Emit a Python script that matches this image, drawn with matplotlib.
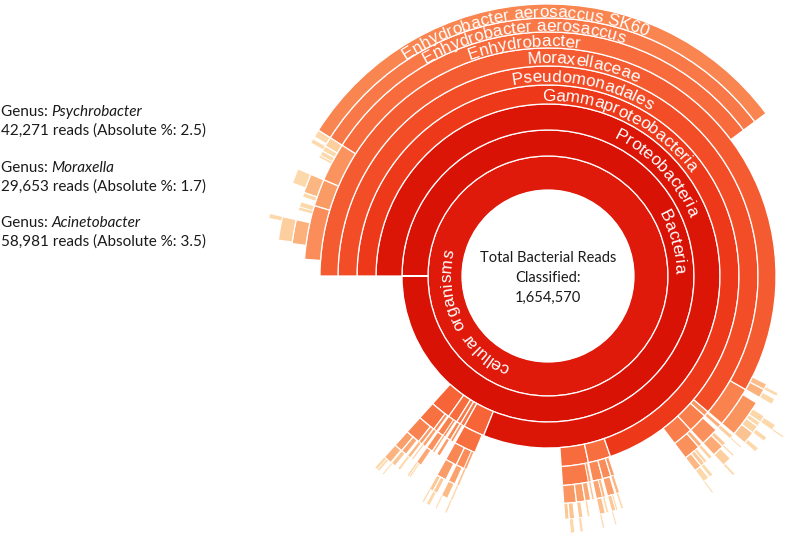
import numpy as np
import matplotlib
matplotlib.use('Agg')
import matplotlib.pyplot as plt
from matplotlib.patches import Wedge, Circle
from matplotlib.colors import LinearSegmentedColormap
from matplotlib.font_manager import FontProperties

# values are % of all classified bacterial reads
# 'unassigned' = reads that stop at the parent taxon (drawn as empty space)
root_lineage = [
    ('cellular organisms', None, 100.0),
    ('Bacteria', 'cellular organisms', 100.0),
    ('unassigned', 'Bacteria', 13.3),
]

other_phyla = [
    ('Firmicutes', 'Bacteria', 1.9),
    ('Bacilli', 'Firmicutes', 1.5),
    ('Bacillales', 'Bacilli', 1.15),
    ('Staphylococcaceae', 'Bacillales', 0.6),
    ('Staphylococcus', 'Staphylococcaceae', 0.55),
    ('Staphylococcus aureus', 'Staphylococcus', 0.2),
    ('Staphylococcus epidermidis', 'Staphylococcus', 0.15),
    ('Bacillaceae', 'Bacillales', 0.4),
    ('Bacillus', 'Bacillaceae', 0.32),
    ('Bacillus cereus', 'Bacillus', 0.1),
    ('Lactobacillales', 'Bacilli', 0.3),
    ('Streptococcaceae', 'Lactobacillales', 0.22),
    ('Streptococcus', 'Streptococcaceae', 0.18),
    ('Clostridia', 'Firmicutes', 0.3),
    ('Clostridiales', 'Clostridia', 0.25),
    ('Clostridiaceae', 'Clostridiales', 0.12),
    ('Bacteroidetes', 'Bacteria', 0.9),
    ('Flavobacteriia', 'Bacteroidetes', 0.55),
    ('Flavobacteriales', 'Flavobacteriia', 0.5),
    ('Flavobacteriaceae', 'Flavobacteriales', 0.4),
    ('Chryseobacterium', 'Flavobacteriaceae', 0.15),
    ('Flavobacterium', 'Flavobacteriaceae', 0.12),
    ('Sphingobacteriia', 'Bacteroidetes', 0.2),
    ('Sphingobacteriales', 'Sphingobacteriia', 0.15),
    ('Deinococcus-Thermus', 'Bacteria', 0.4),
    ('Deinococci', 'Deinococcus-Thermus', 0.35),
    ('Deinococcales', 'Deinococci', 0.3),
    ('Cyanobacteria', 'Bacteria', 0.4),
    ('Cyanophyceae', 'Cyanobacteria', 0.2),
    ('Actinobacteria', 'Bacteria', 2.0),
    ('Actinomycetia', 'Actinobacteria', 1.85),
    ('Micrococcales', 'Actinomycetia', 0.9),
    ('Micrococcaceae', 'Micrococcales', 0.7),
    ('Kocuria', 'Micrococcaceae', 0.3),
    ('Kocuria rhizophila', 'Kocuria', 0.12),
    ('Micrococcus', 'Micrococcaceae', 0.3),
    ('Micrococcus luteus', 'Micrococcus', 0.22),
    ('Corynebacteriales', 'Actinomycetia', 0.65),
    ('Corynebacteriaceae', 'Corynebacteriales', 0.5),
    ('Corynebacterium', 'Corynebacteriaceae', 0.45),
    ('Corynebacterium glutamicum', 'Corynebacterium', 0.1),
    ('Propionibacteriales', 'Actinomycetia', 0.2),
    ('Propionibacteriaceae', 'Propionibacteriales', 0.16),
    ('Cutibacterium', 'Propionibacteriaceae', 0.14),
    ('Cutibacterium acnes', 'Cutibacterium', 0.12),
]

proteobacteria = [
    ('Proteobacteria', 'Bacteria', 81.1),
    ('unassigned', 'Proteobacteria', 7.2),
    ('Betaproteobacteria', 'Proteobacteria', 2.3),
    ('Burkholderiales', 'Betaproteobacteria', 2.0),
    ('Comamonadaceae', 'Burkholderiales', 0.9),
    ('Acidovorax', 'Comamonadaceae', 0.3),
    ('Delftia', 'Comamonadaceae', 0.35),
    ('Delftia acidovorans', 'Delftia', 0.25),
    ('Burkholderiaceae', 'Burkholderiales', 0.6),
    ('Ralstonia', 'Burkholderiaceae', 0.3),
    ('Ralstonia pickettii', 'Ralstonia', 0.18),
    ('Oxalobacteraceae', 'Burkholderiales', 0.4),
    ('Massilia', 'Oxalobacteraceae', 0.15),
    ('Neisseriales', 'Betaproteobacteria', 0.2),
    ('Neisseriaceae', 'Neisseriales', 0.15),
    ('Alphaproteobacteria', 'Proteobacteria', 1.9),
    ('Rhizobiales', 'Alphaproteobacteria', 0.8),
    ('Methylobacteriaceae', 'Rhizobiales', 0.45),
    ('Methylobacterium', 'Methylobacteriaceae', 0.38),
    ('Methylobacterium sp.', 'Methylobacterium', 0.12),
    ('Brucellaceae', 'Rhizobiales', 0.2),
    ('Ochrobactrum', 'Brucellaceae', 0.15),
    ('Sphingomonadales', 'Alphaproteobacteria', 0.65),
    ('Sphingomonadaceae', 'Sphingomonadales', 0.55),
    ('Sphingomonas', 'Sphingomonadaceae', 0.3),
    ('Sphingomonas sp.', 'Sphingomonas', 0.1),
    ('Sphingobium', 'Sphingomonadaceae', 0.12),
    ('Rhodobacterales', 'Alphaproteobacteria', 0.3),
    ('Rhodobacteraceae', 'Rhodobacterales', 0.22),
    ('Paracoccus', 'Rhodobacteraceae', 0.15),
    ('Gammaproteobacteria', 'Proteobacteria', 69.7),
    ('unassigned', 'Gammaproteobacteria', 5.0),
    ('Enterobacterales', 'Gammaproteobacteria', 1.6),
    ('Enterobacteriaceae', 'Enterobacterales', 1.2),
    ('Escherichia', 'Enterobacteriaceae', 0.5),
    ('Escherichia coli', 'Escherichia', 0.42),
    ('Escherichia coli K-12', 'Escherichia coli', 0.1),
    ('Klebsiella', 'Enterobacteriaceae', 0.3),
    ('Klebsiella pneumoniae', 'Klebsiella', 0.22),
    ('Enterobacter', 'Enterobacteriaceae', 0.2),
    ('Yersiniaceae', 'Enterobacterales', 0.3),
    ('Serratia', 'Yersiniaceae', 0.22),
    ('Xanthomonadales', 'Gammaproteobacteria', 1.5),
    ('Xanthomonadaceae', 'Xanthomonadales', 1.3),
    ('Stenotrophomonas', 'Xanthomonadaceae', 0.8),
    ('Stenotrophomonas maltophilia', 'Stenotrophomonas', 0.6),
    ('Stenotrophomonas maltophilia K279a', 'Stenotrophomonas maltophilia', 0.15),
    ('Xanthomonas', 'Xanthomonadaceae', 0.3),
    ('Xanthomonas campestris', 'Xanthomonas', 0.12),
    ('Aeromonadales', 'Gammaproteobacteria', 0.4),
    ('Aeromonadaceae', 'Aeromonadales', 0.3),
    ('Aeromonas', 'Aeromonadaceae', 0.25),
    ('Aeromonas hydrophila', 'Aeromonas', 0.1),
    ('Pseudomonadales', 'Gammaproteobacteria', 61.2),
    ('Pseudomonadaceae', 'Pseudomonadales', 2.9),
    ('Pseudomonas', 'Pseudomonadaceae', 2.5),
    ('Pseudomonas fluorescens group', 'Pseudomonas', 0.8),
    ('Pseudomonas fluorescens', 'Pseudomonas fluorescens group', 0.3),
    ('Pseudomonas putida group', 'Pseudomonas', 0.5),
    ('Pseudomonas putida', 'Pseudomonas putida group', 0.3),
    ('Pseudomonas stutzeri group', 'Pseudomonas', 0.3),
    ('Pseudomonas aeruginosa group', 'Pseudomonas', 0.45),
    ('Pseudomonas aeruginosa', 'Pseudomonas aeruginosa group', 0.38),
    ('Pseudomonas aeruginosa PAO1', 'Pseudomonas aeruginosa', 0.1),
    ('Moraxellaceae', 'Pseudomonadales', 58.3),
]

total_reads = 1654570
genus_names = ['Psychrobacter', 'Moraxella', 'Acinetobacter']
genus_reads = [42271, 29653, 58981]
genus_abs_pct = [2.5, 1.7, 3.5]
genus_pct = [100.0 * r / total_reads for r in genus_reads]

moraxellaceae = [
    ('Perlucidibaca', 'Moraxellaceae', 0.6),
    ('Perlucidibaca piscinae', 'Perlucidibaca', 0.4),
    ('Alkanindiges', 'Moraxellaceae', 0.4),
    ('Alkanindiges illinoisensis', 'Alkanindiges', 0.2),
    ('unassigned', 'Moraxellaceae', 17.5),
    ('Enhydrobacter', 'Moraxellaceae', 30.8),
    ('Enhydrobacter aerosaccus', 'Enhydrobacter', 30.8),
    ('Enhydrobacter aerosaccus SK60', 'Enhydrobacter aerosaccus', 30.8),
    ('Psychrobacter', 'Moraxellaceae', genus_pct[0]),
    ('Psychrobacter cryohalolentis', 'Psychrobacter', 0.6),
    ('Psychrobacter cryohalolentis K5', 'Psychrobacter cryohalolentis', 0.45),
    ('Psychrobacter arcticus', 'Psychrobacter', 0.35),
    ('Psychrobacter arcticus 273-4', 'Psychrobacter arcticus', 0.25),
    ('Psychrobacter sp. PRwf-1', 'Psychrobacter', 0.3),
    ('Psychrobacter sp. G', 'Psychrobacter', 0.15),
    ('Moraxella', 'Moraxellaceae', genus_pct[1]),
    ('Moraxella osloensis', 'Moraxella', 1.2),
    ('Moraxella osloensis NP7', 'Moraxella osloensis', 0.9),
    ('Moraxella catarrhalis', 'Moraxella', 0.3),
    ('Acinetobacter', 'Moraxellaceae', genus_pct[2]),
    ('Acinetobacter johnsonii', 'Acinetobacter', 0.35),
    ('Acinetobacter lwoffii', 'Acinetobacter', 0.2),
    ('unassigned', 'Acinetobacter', 0.6),
    ('Acinetobacter calcoaceticus/baumannii complex', 'Acinetobacter', 1.5),
    ('Acinetobacter baumannii', 'Acinetobacter calcoaceticus/baumannii complex', 1.4),
    ('Acinetobacter baumannii ATCC 17978', 'Acinetobacter baumannii', 0.25),
    ('unassigned', 'Moraxellaceae', 1.1),
]

labelled = {
    'cellular organisms': 206, 'Bacteria': 15.5, 'Proteobacteria': 43.5,
    'Gammaproteobacteria': 64, 'Pseudomonadales': 79.5, 'Moraxellaceae': 80.5,
    'Enhydrobacter': 96, 'Enhydrobacter aerosaccus': 96,
    'Enhydrobacter aerosaccus SK60': 95.5,
}

# ---- layout
nodes = root_lineage + other_phyla + proteobacteria + moraxellaceae
names = [n[0] for n in nodes]
parents = [n[1] for n in nodes]
pct = [n[2] for n in nodes]

children = {}
for i, p in enumerate(parents):
    children.setdefault(p, []).append(i)

rings = [86, 120, 146, 172, 191, 210, 228, 244, 258, 272, 285, 297, 308]
cx, cy = 548, 259

theta = {}
depth = {}


def place(i, start, d):
    theta[i] = (start, start + pct[i] * 3.6)
    depth[i] = d
    if names[i] == 'unassigned':
        return
    s = start
    for c in children.get(names[i], []):
        place(c, s, d + 1)
        s += pct[c] * 3.6


place(0, 180.0, 1)

cmap = LinearSegmentedColormap.from_list('krona', [
    (0.0, '#e01a0b'), (0.08, '#d81106'), (0.17, '#dc1607'), (0.26, '#ee3a1b'),
    (0.34, '#f34d27'), (0.42, '#f55b31'), (0.55, '#f76b3c'), (0.63, '#f87847'),
    (0.70, '#f98551'), (0.78, '#fa9560'), (0.9, '#fcb27e'), (1.0, '#fdd8aa')])


def node_color(d, p):
    t = 0.075 * (d - 1) + 0.2 * (2 - np.log10(p))
    return cmap(float(min(max(t, 0.0), 1.0)))


fig = plt.figure(figsize=(8, 5.35), dpi=100)
ax = fig.add_axes([0, 0, 1, 1])
ax.set_xlim(0, 800)
ax.set_ylim(0, 535)
ax.set_aspect('equal')
ax.axis('off')

for i in range(len(nodes)):
    if names[i] == 'unassigned':
        continue
    t1, t2 = theta[i]
    d = depth[i]
    if t2 - t1 >= 360 and d > 1:
        t2 = t1 + 359.95
    lw = 0.9 if (t2 - t1) > 1.0 else 0.45
    ax.add_patch(Wedge((cx, cy), rings[d], t1, t2, width=rings[d] - rings[d - 1],
                       facecolor=node_color(d, pct[i]), edgecolor='white', linewidth=lw))

ax.add_patch(Circle((cx, cy), rings[0], facecolor='white', edgecolor='none'))

# ---- curved labels
renderer = fig.canvas.get_renderer()
fp = FontProperties(family='Liberation Sans', size=12.3)
cap = 0.72 * 12.3 * 100 / 72


def char_width(ch):
    if ch == ' ':
        return (renderer.get_text_width_height_descent('a a', fp, ismath=False)[0]
                - renderer.get_text_width_height_descent('aa', fp, ismath=False)[0])
    return renderer.get_text_width_height_descent(ch, fp, ismath=False)[0]


def arc_text(text, r_mid, center_deg):
    r = r_mid - cap / 2
    widths = [char_width(ch) for ch in text]
    s = -sum(widths) / 2
    for ch, w in zip(text, widths):
        th = np.radians(center_deg) - (s + w / 2) / r
        ax.text(cx + r * np.cos(th), cy + r * np.sin(th), ch, fontproperties=fp,
                color='white', rotation=np.degrees(th) - 90, rotation_mode='anchor',
                ha='center', va='baseline')
        s += w


for i, nm in enumerate(names):
    if nm in labelled:
        d = depth[i]
        arc_text(nm, (rings[d - 1] + rings[d]) / 2, labelled[nm])

ax.text(cx, 535 - 278, 'Total Bacterial Reads\nClassified:\n' + f'{total_reads:,}',
        ha='center', va='center', fontsize=10.5, family='Lato', linespacing=1.55,
        color='#1a1a1a')

# ---- genus notes on the left
for k, (g, rd, ap) in enumerate(zip(genus_names, genus_reads, genus_abs_pct)):
    y = 535 - (112 + k * 55.5)
    t = ax.text(1, y, 'Genus: ', ha='left', va='center', fontsize=11, family='Lato',
                color='#1a1a1a')
    w = t.get_window_extent(renderer).width
    ax.text(1 + w, y, g, ha='left', va='center', fontsize=11, family='Lato',
            style='italic', color='#1a1a1a')
    ax.text(1, y - 19, f'{rd:,} reads (Absolute %: {ap})', ha='left', va='center',
            fontsize=11, family='Lato', color='#1a1a1a')

fig.savefig('out.png', dpi=100)
